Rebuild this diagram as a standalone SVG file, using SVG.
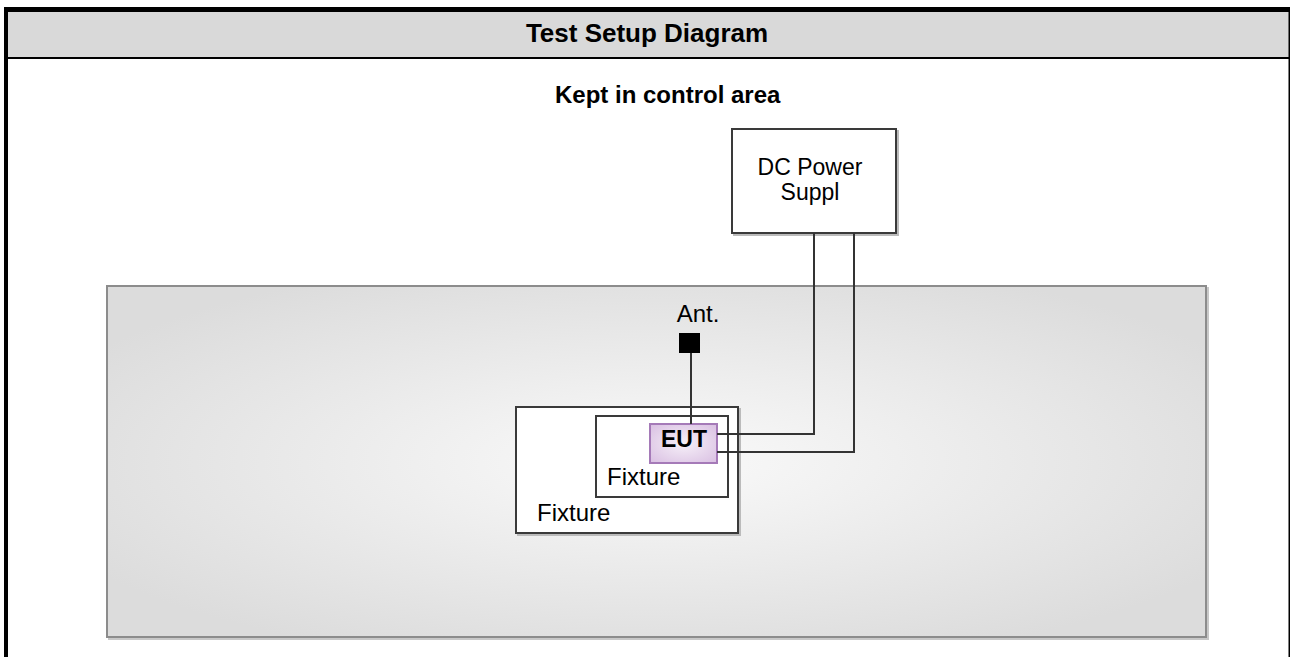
<svg xmlns="http://www.w3.org/2000/svg" width="1290" height="657" viewBox="0 0 1290 657">
<style>
.t{font-family:"Liberation Sans",Arial,sans-serif;fill:#000}
.b{font-weight:bold}
.box{fill:#fff;stroke:#3a3a3a;stroke-width:2}
.sh{fill:none;stroke:#bbb;stroke-width:2}
.wire{fill:none;stroke:#333;stroke-width:2}
</style>
<defs>
<radialGradient id="area" cx="0.5" cy="0.5" r="0.6">
<stop offset="0" stop-color="#fafafa"/>
<stop offset="1" stop-color="#dcdcdc"/>
</radialGradient>
<radialGradient id="eut" cx="0.5" cy="0.5" r="0.7">
<stop offset="0" stop-color="#f6f0f8"/>
<stop offset="1" stop-color="#d9bfe2"/>
</radialGradient>
</defs>
<g id="frame">
<rect x="0" y="0" width="1290" height="657" fill="#fff"/>
<rect x="8" y="12" width="1281" height="45" fill="#d9d9d9"/>
<rect x="4" y="7" width="1286" height="5" fill="#000"/>
<rect x="4" y="7" width="4" height="650" fill="#000"/>
<rect x="8" y="57" width="1282" height="2" fill="#000"/>
<rect x="1288.5" y="12" width="1.5" height="645" fill="#000"/>
<text class="t b" x="647" y="42" font-size="26" text-anchor="middle">Test Setup Diagram</text>
</g>
<g id="caption">
<text class="t b" x="555" y="103" font-size="24">Kept in control area</text>
</g>
<g id="control-area">
<rect x="109" y="288" width="1099" height="351" fill="none" stroke="#c8c8c8" stroke-width="2"/>
<rect x="107" y="286" width="1099" height="351" fill="url(#area)" stroke="#8c8c8c" stroke-width="2"/>
</g>
<g id="dc-power-supply">
<rect x="734" y="131" width="164" height="104" class="sh"/>
<rect x="732" y="129" width="164" height="104" class="box"/>
<text class="t" font-size="23" text-anchor="middle"><tspan x="810" y="175">DC Power</tspan><tspan x="810" y="200">Suppl</tspan></text>
</g>
<g id="fixture-outer">
<rect x="518" y="409" width="222" height="126" class="sh"/>
<rect x="516" y="407" width="222" height="126" class="box"/>
<text class="t" x="537" y="521" font-size="24">Fixture</text>
</g>
<g id="fixture-inner">
<rect x="596" y="416" width="132" height="81" class="box"/>
<text class="t" x="607" y="485" font-size="24">Fixture</text>
</g>
<g id="eut">
<rect x="650" y="424" width="67" height="39" fill="url(#eut)" stroke="#a57ab8" stroke-width="2"/>
<text class="t b" x="684" y="447" font-size="23" text-anchor="middle">EUT</text>
</g>
<g id="antenna">
<rect x="679" y="333" width="21" height="20" fill="#000"/>
<text class="t" x="698" y="322" font-size="24" text-anchor="middle">Ant.</text>
</g>
<g id="connectors">
<path class="wire" d="M691 353 V424"/>
<path class="wire" d="M717 434 H814 V233"/>
<path class="wire" d="M717 452 H854 V233"/>
</g>
</svg>
